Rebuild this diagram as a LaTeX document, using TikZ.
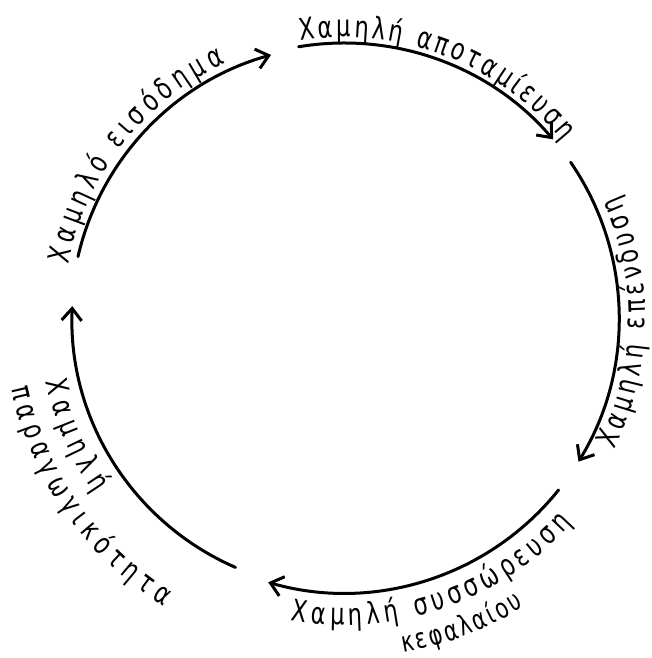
\documentclass[tikz,border=0pt]{standalone}
\usepackage{fontspec}
\setmainfont{DejaVu Sans}
\newfontfamily\handfont[FakeStretch=0.75]{DejaVu Sans}
\usetikzlibrary{arrows.meta,decorations.text,calc}
\begin{document}
\begin{tikzpicture}[x=1pt,y=1pt,
  cyc/.style={line width=3pt, line cap=round, -{Straight Barb[length=12pt,width=20pt]}},
  lbl/.style={decorate, decoration={text along path, text align=fit to path,
      text={|\handfont\fontsize{30}{32}\selectfont|#1}}},
  lblsmall/.style={decorate, decoration={text along path, text align=fit to path,
      text={|\handfont\fontsize{28}{30}\selectfont|#1}}}]
\useasboundingbox (0,0) rectangle (651,658);
\coordinate (c) at (344,340);
% arc start points
\coordinate (s1) at ($(c)+(167:273)$);
\coordinate (s2) at ($(c)+(99.5:275)$);
\coordinate (s3) at ($(c)+(34.5:275)$);
\coordinate (s4) at ($(c)+(-38.7:275)$);
\coordinate (s5) at ($(c)+(246.5:272)$);
% arcs
\draw[cyc] (s1) arc[start angle=167, end angle=105.5, radius=273];
\draw[cyc] (s2) arc[start angle=99.5, end angle=40.5, radius=275];
\draw[cyc] (s3) arc[start angle=34.5, end angle=-31.5, radius=275];
\draw[cyc] (s4) arc[start angle=-38.7, end angle=-106, radius=275];
\draw[cyc] (s5) arc[start angle=246.5, end angle=177.5, radius=272];
% labels
\path[lbl={Χαμηλό εισόδημα}] ($(c)+(169:281)$) arc[start angle=169, end angle=115, radius=281];
\path[lbl={Χαμηλή αποταμίευση}] ($(c)+(99:281)$) arc[start angle=99, end angle=39, radius=281];
\path[lbl={Χαμηλή επένδυση}] ($(c)+(-26:301)$) arc[start angle=-26, end angle=24, radius=301];
\path[lbl={Χαμηλή συσσώρευση}] ($(c)+(-100:307)$) arc[start angle=-100, end angle=-42, radius=307];
\path[lblsmall={κεφαλαίου}] ($(c)+(-80:340)$) arc[start angle=-80, end angle=-58, radius=340];
\path[lbl={Χαμηλή}] ($(c)+(192:305)$) arc[start angle=192, end angle=215, radius=305];
\path[lbl={παραγωγικότητα}] ($(c)+(192:340)$) arc[start angle=192, end angle=238, radius=340];
\end{tikzpicture}
\end{document}
